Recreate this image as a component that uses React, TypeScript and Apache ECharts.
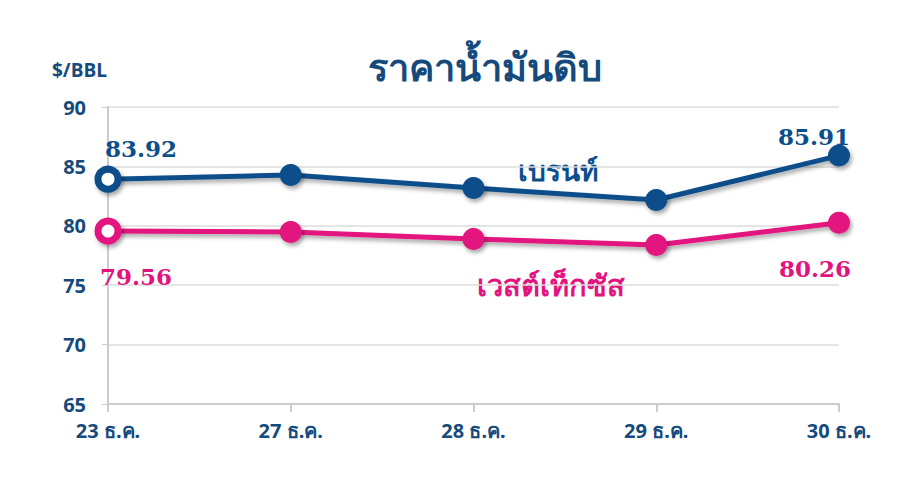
import React, { useEffect, useRef } from "react";
import * as echarts from "echarts";

const categories = ["23 ธ.ค.", "27 ธ.ค.", "28 ธ.ค.", "29 ธ.ค.", "30 ธ.ค."];
const brent = [83.92, 84.28, 83.18, 82.17, 85.91];
const wti = [79.56, 79.48, 78.89, 78.38, 80.26];
const yTicks = { min: 65, max: 90, interval: 5 };
const title = "ราคาน้ำมันดิบ";
const unit = "$/BBL";
const brentName = "เบรนท์";
const wtiName = "เวสต์เท็กซัส";

const BLUE = "#0b4e8a";
const PINK = "#e2137e";
const TEXT = "#154a7c";

const shadow = {
  shadowColor: "rgba(0,0,0,0.35)",
  shadowBlur: 4,
  shadowOffsetX: 2,
  shadowOffsetY: 3,
};

const labelFont = {
  fontFamily: "DejaVu Serif",
  fontWeight: "bold" as const,
  fontSize: 23,
};

function buildData(values: number[], color: string, labels: any[]) {
  return values.map((v, i) => {
    const item: any = { value: v };
    if (i === 0) {
      item.symbolSize = 20;
      item.itemStyle = { color: "#ffffff", borderColor: color, borderWidth: 7, ...shadow };
    }
    if (labels[i]) {
      item.label = { show: true, color, ...labelFont, ...labels[i] };
    }
    return item;
  });
}

export default function App() {
  const ref = useRef<HTMLDivElement>(null);
  useEffect(() => {
    if (!ref.current) return;
    const chart = echarts.init(ref.current, undefined, { renderer: "svg" });
    chart.setOption({
      animation: false,
      backgroundColor: "#ffffff",
      grid: { left: 100, right: 69, top: 99, bottom: 89 },
      title: {
        text: title,
        left: 472,
        top: 34,
        textAlign: "center",
        textStyle: { color: TEXT, fontSize: 38, fontWeight: "bold", fontFamily: "Noto Sans" },
      },
      graphic: [
        {
          type: "text",
          left: 44,
          top: 52,
          style: { text: unit, fill: TEXT, font: "bold 19px 'Open Sans', 'Noto Sans'" },
        },
        {
          type: "text",
          left: 510,
          top: 148,
          style: { text: brentName, fill: BLUE, font: "bold 28px 'Noto Sans'" },
        },
        {
          type: "text",
          left: 469,
          top: 262,
          style: { text: wtiName, fill: PINK, font: "bold 29px 'Noto Sans'" },
        },
      ],
      xAxis: {
        type: "category",
        data: categories,
        boundaryGap: false,
        axisLine: { lineStyle: { color: "#cccccc", width: 2 } },
        axisTick: { show: true, length: 8, lineStyle: { color: "#cccccc", width: 2 } },
        axisLabel: {
          color: TEXT,
          fontWeight: "bold",
          fontSize: 20,
          fontFamily: "Noto Sans",
          margin: 16,
        },
        splitLine: { show: false },
      },
      yAxis: {
        type: "value",
        min: yTicks.min,
        max: yTicks.max,
        interval: yTicks.interval,
        axisLine: { show: true, lineStyle: { color: "#cccccc", width: 2 } },
        axisTick: { show: true, length: 6, lineStyle: { color: "#cccccc" } },
        axisLabel: {
          color: TEXT,
          fontWeight: "bold",
          fontSize: 20,
          fontFamily: "Open Sans",
          margin: 22,
        },
        splitLine: { lineStyle: { color: "#dddddd", width: 1.5 } },
      },
      series: [
        {
          name: brentName,
          type: "line",
          symbol: "circle",
          symbolSize: 22,
          lineStyle: { color: BLUE, width: 5, ...shadow },
          itemStyle: { color: BLUE, ...shadow },
          data: buildData(brent, BLUE, [
            { position: "top", offset: [33, -1] },
            null,
            null,
            null,
            { position: "top", offset: [-25, 8] },
          ]),
        },
        {
          name: wtiName,
          type: "line",
          symbol: "circle",
          symbolSize: 22,
          lineStyle: { color: PINK, width: 5, ...shadow },
          itemStyle: { color: PINK, ...shadow },
          data: buildData(wti, PINK, [
            { position: "bottom", offset: [28, 15] },
            null,
            null,
            null,
            { position: "bottom", offset: [-24, 18] },
          ]),
        },
      ],
    });
    return () => chart.dispose();
  }, []);
  return <div ref={ref} style={{ width: 900, height: 485 }} />;
}
